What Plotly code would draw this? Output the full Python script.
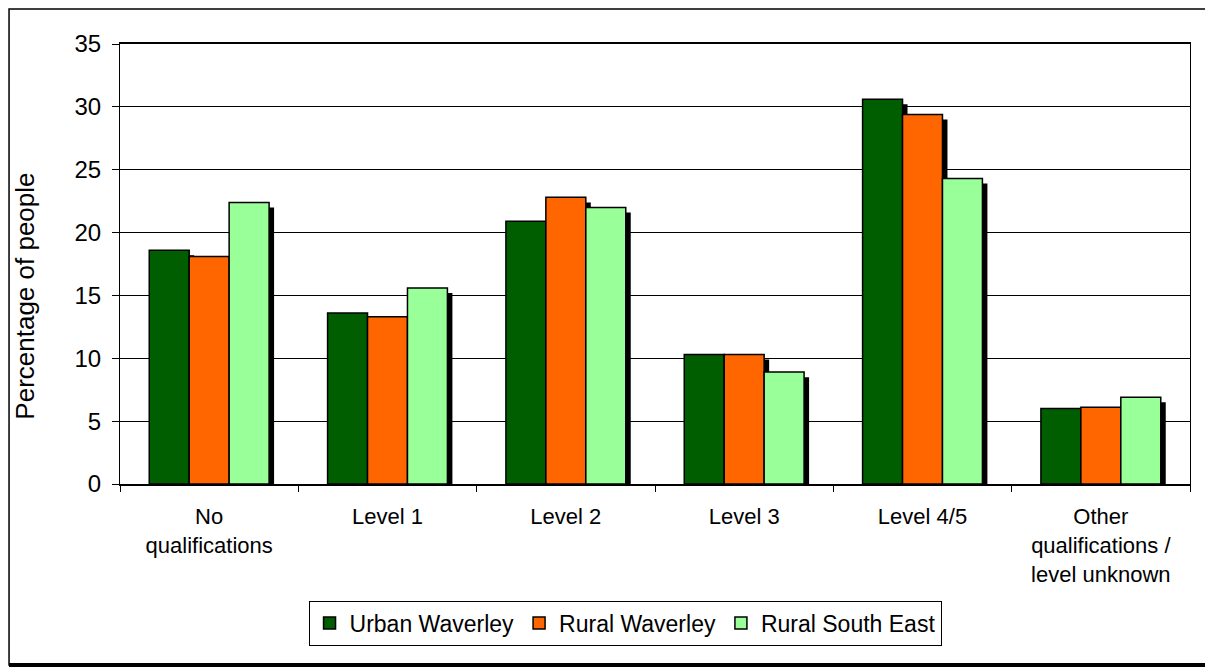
import plotly.graph_objects as go

categories = ["No<br>qualifications", "Level 1", "Level 2", "Level 3", "Level 4/5",
              "Other<br>qualifications /<br>level unknown"]
urban_waverley = [18.6, 13.6, 20.9, 10.3, 30.6, 6.0]
rural_waverley = [18.1, 13.3, 22.8, 10.3, 29.4, 6.1]
rural_south_east = [22.4, 15.6, 22.0, 8.9, 24.3, 6.9]

series = [
    ("Urban Waverley", urban_waverley, "#005E00"),
    ("Rural Waverley", rural_waverley, "#FF6600"),
    ("Rural South East", rural_south_east, "#99FF99"),
]

bar_w = 0.224
offsets = [-0.336, -0.112, 0.112]
sx = 0.028   # shadow shift in category units
sy = 0.4     # shadow shift in value units

fig = go.Figure()
# shadows
for (name, vals, col), off in zip(series, offsets):
    fig.add_trace(go.Bar(
        x=categories, y=vals, base=[-sy] * len(vals), offset=off + sx, width=bar_w,
        marker=dict(color="black", line=dict(width=0)),
        showlegend=False, hoverinfo="skip"))
# real bars
for (name, vals, col), off in zip(series, offsets):
    fig.add_trace(go.Bar(
        x=categories, y=vals, name=name, offset=off, width=bar_w,
        marker=dict(color=col, line=dict(color="black", width=1.5))))

fig.update_layout(
    width=1205, height=664,
    barmode="overlay",
    paper_bgcolor="white", plot_bgcolor="white",
    margin=dict(l=112, r=23, t=36, b=188),
    font=dict(family="Liberation Sans, Arial, sans-serif", size=22, color="black"),
    showlegend=True,
    legend=dict(orientation="h", x=0.472, y=-0.316, xanchor="center", yanchor="middle",
                bordercolor="black", borderwidth=1, font=dict(size=23),
                itemwidth=30, tracegroupgap=0),
    xaxis=dict(type="category", tickson="boundaries", ticks="outside", ticklen=6,
               tickcolor="black", showline=True, linecolor="black", linewidth=2,
               mirror=True, showgrid=False, tickfont=dict(size=22),
               ticklabelstandoff=12),
    yaxis=dict(range=[0, 35], dtick=5, ticks="outside", ticklen=7, tickcolor="black",
               showline=True, linecolor="black", linewidth=1, mirror=True,
               showgrid=True, gridcolor="black", gridwidth=1, zeroline=False,
               tickfont=dict(size=24), ticklabelstandoff=6),
    annotations=[dict(text="Percentage of people", xref="paper", yref="paper",
                      x=-0.0888, y=0.428, xanchor="center", yanchor="middle",
                      textangle=-90, showarrow=False, font=dict(size=26))],
    shapes=[
        dict(type="rect", xref="paper", yref="paper",
             x0=-0.1037, x1=1.0159, y0=-0.4114, y1=1.0795,
             line=dict(color="black", width=1.5), layer="below"),
        dict(type="line", xref="paper", yref="paper",
             x0=1.0159, x1=1.0159, y0=-0.4114, y1=1.0795,
             line=dict(color="black", width=4), layer="below"),
        dict(type="line", xref="paper", yref="paper",
             x0=-0.1037, x1=1.0159, y0=-0.4114, y1=-0.4114,
             line=dict(color="black", width=4), layer="below"),
    ],
)

fig.write_html("out.html")
